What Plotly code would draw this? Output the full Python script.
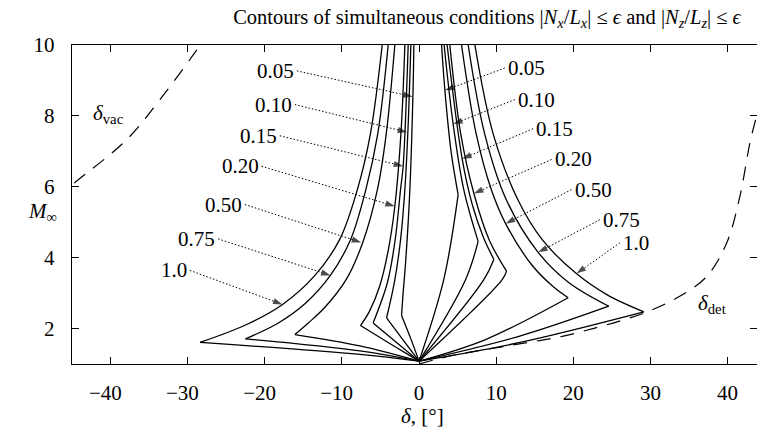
import plotly.graph_objects as go

# ---------------- data ----------------
eps_labels = ["0.05", "0.10", "0.15", "0.20", "0.50", "0.75", "1.0"]

# common convergence point of all contours
conv_delta = 0.0
conv_mach = 1.08

# left branches (from top of the plot down to the left tip)
left_delta = [
    [-0.67, -0.80, -1.19, -1.70, -2.10, -2.27],
    [-1.06, -1.45, -1.84, -2.40, -3.20, -4.21],
    [-1.41, -2.06, -2.40, -3.10, -4.10, -5.95],
    [-1.84, -2.35, -3.14, -4.00, -5.10, -6.40, -7.59],
    [-3.14, -4.25, -5.40, -7.30, -9.40, -12.2, -14.4, -16.1],
    [-4.00, -5.35, -6.90, -8.90, -11.5, -14.8, -18.3, -22.5],
    [-4.78, -6.30, -8.00, -10.3, -13.5, -17.7, -22.5, -28.4],
]
left_mach = [
    [10, 8.54, 5.92, 4.0, 2.9, 2.37],
    [10, 7.54, 5.92, 4.5, 3.3, 2.30],
    [10, 6.58, 5.92, 4.5, 3.3, 2.16],
    [10, 7.5, 5.45, 4.2, 3.2, 2.5, 2.085],
    [10, 7.5, 5.92, 4.43, 3.4, 2.6, 2.15, 1.83],
    [10, 7.5, 5.92, 4.5, 3.5, 2.7, 2.15, 1.71],
    [10, 7.5, 5.92, 4.51, 3.5, 2.68, 2.1, 1.61],
]
# lower-left edges: intermediate point between the left tip and the convergence point
lowleft_delta = [-1.1, -2.1, -3.0, -3.8, -7.67, -7.67, -7.67]
lowleft_mach = [1.73, 1.69, 1.62, 1.58, 1.51, 1.37, 1.27]

# lower-right edges: intermediate point between the convergence point and the right tip
lowright_delta = [3.2, 6.03, 8.4, 10.78, 8.62, 12.95, 12.95]
lowright_mach = [3.38, 3.38, 3.38, 3.38, 1.69, 1.78, 1.60]

# right branches (from the right tip / kink up to the top of the plot)
right_delta = [
    [5.07, 4.15, 3.35, 2.92],
    [7.66, 5.80, 4.42, 3.25],
    [9.70, 8.30, 6.90, 5.59, 3.64],
    [11.34, 9.10, 7.11, 5.40, 3.99],
    [19.33, 17.3, 14.6, 11.22, 9.40, 7.40, 5.51],
    [24.6, 19.4, 15.44, 11.3, 8.50, 6.37],
    [29.15, 24.4, 20.4, 16.0, 12.8, 9.60, 7.24],
]
right_mach = [
    [5.78, 7.0, 8.72, 10],
    [4.46, 5.92, 7.77, 10],
    [3.95, 4.6, 5.5, 6.79, 10],
    [3.62, 4.5, 5.81, 7.5, 10],
    [2.87, 3.2, 3.8, 4.96, 5.9, 7.5, 10],
    [2.63, 3.3, 4.15, 5.64, 7.5, 10],
    [2.47, 2.95, 3.55, 4.5, 5.64, 7.5, 10],
]

# dashed limit curves
vac_delta = [-47.0, -45.0, -37.9, -33.6, -28.4, -27.6]
vac_mach = [5.65, 6.05, 7.33, 8.46, 10.0, 10.3]
det_delta = [0.0, 4.3, 9.48, 14.24, 18.56, 22.9, 26.3, 29.8, 33.8, 37.3, 39.9, 41.6, 42.9, 43.76, 44.6]
det_mach = [1.0, 1.24, 1.44, 1.61, 1.78, 2.02, 2.23, 2.49, 2.91, 3.47, 4.42, 5.73, 7.24, 8.03, 9.2]

# leader lines: label end -> arrow tip (left side labels)
lab_l_delta = [-15.84, -16.10, -18.05, -20.42, -22.59, -26.05, -29.72]
lab_l_mach = [9.27, 8.32, 7.44, 6.58, 5.50, 4.53, 3.64]
tip_l_delta = [-0.80, -1.54, -2.06, -3.14, -7.50, -11.48, -17.70]
tip_l_mach = [8.54, 7.54, 6.58, 5.45, 4.43, 3.50, 2.68]
# right side labels
lab_r_delta = [11.12, 12.42, 14.79, 17.18, 19.77, 23.44, 26.04]
lab_r_mach = [9.35, 8.46, 7.64, 6.77, 5.92, 5.07, 4.42]
tip_r_delta = [3.35, 4.42, 5.59, 7.11, 11.22, 15.44, 20.42]
tip_r_mach = [8.72, 7.77, 6.79, 5.81, 4.96, 4.15, 3.55]

x_ticks = [-40, -30, -20, -10, 0, 10, 20, 30, 40]
y_ticks = [2, 4, 6, 8, 10]

# ---------------- figure ----------------
FONT = "Liberation Serif, Times New Roman, DejaVu Serif, serif"
FS = 21
BLACK = "#000000"
W, H = 757, 443
ML, MR, MT, MB = 72, 0, 45, 79
LW = 1.3
fig = go.Figure()


def add_line(xs, ys, shape="linear", dash=None, width=LW):
    fig.add_trace(go.Scatter(x=xs, y=ys, mode="lines",
                             line=dict(color=BLACK, width=width, shape=shape, dash=dash),
                             hoverinfo="skip", showlegend=False))


for i in range(len(eps_labels)):
    add_line(left_delta[i], left_mach[i], "spline")
    add_line([left_delta[i][-1], lowleft_delta[i], conv_delta],
             [left_mach[i][-1], lowleft_mach[i], conv_mach], "spline")
    add_line([conv_delta, lowright_delta[i], right_delta[i][0]],
             [conv_mach, lowright_mach[i], right_mach[i][0]], "spline")
    add_line(right_delta[i], right_mach[i], "spline")

add_line(vac_delta, vac_mach, "spline", dash="14px,10px", width=1.2)
add_line(det_delta, det_mach, "spline", dash="14px,10px", width=1.2)

for ld, lm, td, tm in [(lab_l_delta, lab_l_mach, tip_l_delta, tip_l_mach),
                       (lab_r_delta, lab_r_mach, tip_r_delta, tip_r_mach)]:
    for i in range(len(eps_labels)):
        fig.add_trace(go.Scatter(
            x=[ld[i], td[i]], y=[lm[i], tm[i]], mode="lines+markers",
            line=dict(color=BLACK, width=1, dash="1.5px,2px"),
            marker=dict(symbol=["circle", "arrow"], size=[0, 10], color=BLACK,
                        angleref="previous", line=dict(width=0)),
            hoverinfo="skip", showlegend=False))

fig.add_trace(go.Scatter(x=[0], y=[5], yaxis="y2", mode="markers",
                         marker=dict(size=1, opacity=0), hoverinfo="skip", showlegend=False))


def px_to_paper(px, py):
    return (px - ML) / (W - ML - MR), (H - MB - py) / (H - MT - MB)


tfont = dict(family=FONT, size=FS, color=BLACK)
annotations = []
for i, t in enumerate(eps_labels):
    annotations.append(dict(x=lab_l_delta[i], y=lab_l_mach[i], xref="x", yref="y",
                            text=t, showarrow=False, xanchor="right", yanchor="middle",
                            xshift=-1, font=tfont))
    annotations.append(dict(x=lab_r_delta[i], y=lab_r_mach[i], xref="x", yref="y",
                            text=t, showarrow=False, xanchor="left", yanchor="middle",
                            xshift=1, font=tfont))

annotations += [
    dict(x=-40.3, y=8.05, xref="x", yref="y", text="<i>δ</i><sub>vac</sub>", showarrow=False,
         font=tfont),
    dict(x=38.0, y=2.70, xref="x", yref="y", text="<i>δ</i><sub>det</sub>", showarrow=False,
         font=tfont),
]
mx, my = px_to_paper(26, 212)
dx, dy = px_to_paper(422, 430)
annotations += [
    dict(x=mx, y=my, xref="paper", yref="paper", text="<i>M</i><sub>∞</sub>", showarrow=False,
         font=tfont),
    dict(x=dx, y=dy, xref="paper", yref="paper", text="<i>δ</i>, [°]", showarrow=False,
         font=tfont),
]

neg_pad = "\u2002"
x_ticktext = [("\u2212" + str(abs(v)) + neg_pad) if v < 0 else str(v) for v in x_ticks]

fig.update_layout(
    width=W, height=H,
    margin=dict(l=ML, r=MR, t=MT, b=MB, autoexpand=False),
    paper_bgcolor="white", plot_bgcolor="white",
    font=tfont,
    title=dict(text="Contours of simultaneous conditions |<i>N<sub>x</sub></i>/<i>L<sub>x</sub></i>| ≤ <i>ϵ</i>"
                    " and |<i>N<sub>z</sub></i>/<i>L<sub>z</sub></i>| ≤ <i>ϵ</i>",
               x=487 / W, xanchor="center", xref="container",
               y=1 - 17 / H, yanchor="middle", yref="container", automargin=False,
               font=dict(family=FONT, size=20.5, color=BLACK)),
    xaxis=dict(range=[-45, 43.82], tickvals=x_ticks, ticktext=x_ticktext,
               ticks="inside", ticklen=7, tickwidth=1, tickcolor=BLACK,
               showline=True, linecolor=BLACK, linewidth=1.4, mirror="ticks",
               showgrid=False, zeroline=False, ticklabelstandoff=10, automargin=False),
    yaxis=dict(range=[1, 10], tickvals=y_ticks,
               ticks="inside", ticklen=7, tickwidth=1, tickcolor=BLACK,
               showline=True, linecolor=BLACK, linewidth=1.4, mirror=False,
               showgrid=False, zeroline=False, ticklabelstandoff=12, automargin=False),
    yaxis2=dict(range=[1, 10], tickvals=y_ticks, overlaying="y", side="right",
                ticks="inside", ticklen=7, tickwidth=1, tickcolor=BLACK,
                showticklabels=False, showline=False, showgrid=False, zeroline=False,
                automargin=False),
    annotations=annotations,
)

fig.write_html("out.html", config={"displayModeBar": False},
               post_script="document.body.style.margin='0px';document.body.style.padding='0px';")
